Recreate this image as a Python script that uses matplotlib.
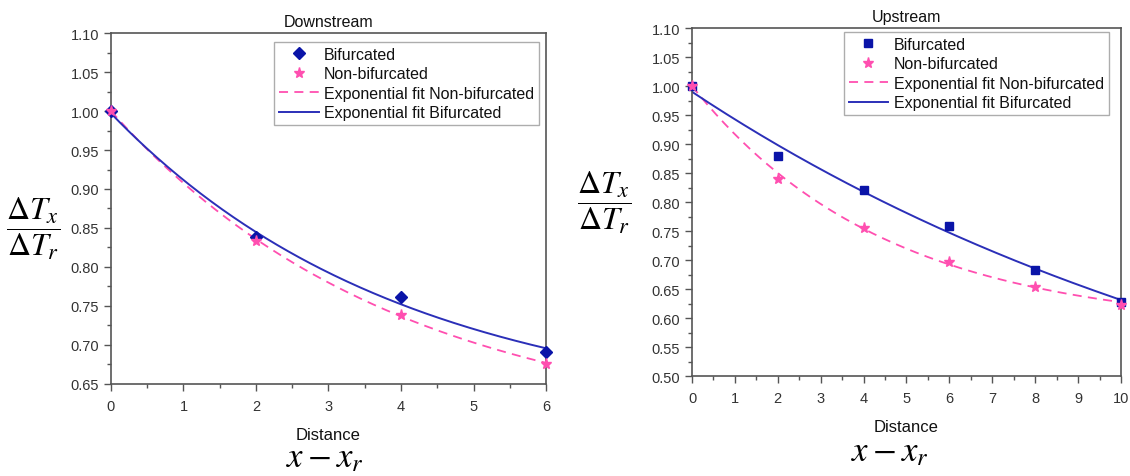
import numpy as np
import matplotlib
matplotlib.use("Agg")
import matplotlib.pyplot as plt
from matplotlib.ticker import MultipleLocator, FormatStrFormatter

plt.rcParams['font.family'] = ['Liberation Sans', 'DejaVu Sans']
plt.rcParams['mathtext.fontset'] = 'stix'

# ---- Data: Downstream ----
down_x = [0, 2, 4, 6]
down_bif = [1.000, 0.838, 0.762, 0.691]
down_nonbif = [1.000, 0.833, 0.738, 0.675]
# exponential fit parameters y = y0 + A*exp(-x/t)
down_fit_bif = dict(y0=0.608, A=0.389, t=4.03)
down_fit_nonbif = dict(y0=0.5865, A=0.4135, t=3.95)

# ---- Data: Upstream ----
up_x = [0, 2, 4, 6, 8, 10]
up_bif = [1.000, 0.880, 0.821, 0.758, 0.682, 0.628]
up_nonbif = [1.000, 0.840, 0.755, 0.697, 0.654, 0.623]
up_fit_bif = dict(y0=0.249, A=0.741, t=15.1)
up_fit_nonbif = dict(y0=0.582, A=0.418, t=4.5)

BLUE_M = '#0a14a8'
BLUE_L = '#2b2fb8'
PINK = '#ff4fb0'
SPINE = '#555555'
TXT = '#333333'

fig = plt.figure(figsize=(11.3, 4.77), dpi=100)

def fit_curve(p, xmax):
    xs = np.linspace(0, xmax, 200)
    return xs, p['y0'] + p['A'] * np.exp(-xs / p['t'])

def style_axes(ax, xmax, ylo, yhi):
    ax.set_xlim(0, xmax)
    ax.set_ylim(ylo, yhi)
    ax.xaxis.set_major_locator(MultipleLocator(1))
    ax.xaxis.set_minor_locator(MultipleLocator(0.5))
    ax.yaxis.set_major_locator(MultipleLocator(0.05))
    ax.yaxis.set_minor_locator(MultipleLocator(0.025))
    ax.yaxis.set_major_formatter(FormatStrFormatter('%.2f'))
    ax.tick_params(which='major', direction='out', length=5, width=1, color=SPINE,
                   labelsize=10.5, labelcolor=TXT)
    ax.tick_params(which='minor', direction='out', length=3, width=1, color=SPINE)
    ax.tick_params(axis='x', pad=6)
    for s in ax.spines.values():
        s.set_color(SPINE)
        s.set_linewidth(1.2)

def draw(ax, x, bif, nonbif, fb, fn, xmax, ylo, bif_marker, bif_ms, title, leg_anchor):
    xs, yn = fit_curve(fn, xmax)
    ax.plot(x, bif, linestyle='none', marker=bif_marker, ms=bif_ms, color=BLUE_M,
            label='Bifurcated', zorder=3, clip_on=False)
    ax.plot(x, nonbif, linestyle='none', marker='*', ms=8, color=PINK,
            label='Non-bifurcated', zorder=4, clip_on=False)
    ax.plot(xs, yn, linestyle=(0, (5, 3.5)), color=PINK, lw=1.3,
            label='Exponential fit Non-bifurcated', zorder=2)
    xs, yb = fit_curve(fb, xmax)
    ax.plot(xs, yb, linestyle='-', color=BLUE_L, lw=1.4,
            label='Exponential fit Bifurcated', zorder=2)
    style_axes(ax, xmax, ylo, 1.10)
    ax.set_title(title, fontsize=11.5, color='#111111', pad=5)
    ax.set_xlabel('Distance', fontsize=12, color='#111111', labelpad=10)
    leg = ax.legend(loc='upper right', bbox_to_anchor=leg_anchor, fontsize=11.5,
                    frameon=True, fancybox=False, edgecolor='#999999',
                    handlelength=2.5, handletextpad=0.35, borderpad=0.3,
                    labelspacing=0.28, borderaxespad=0.0)
    leg.get_frame().set_linewidth(1.0)
    for t in leg.get_texts():
        t.set_color('#111111')

ax1 = fig.add_axes([0.0982, 0.1929, 0.385, 0.7358])
draw(ax1, down_x, down_bif, down_nonbif, down_fit_bif, down_fit_nonbif, 6, 0.65,
     'D', 6.5, 'Downstream', (0.984, 0.974))

ax2 = fig.add_axes([0.6124, 0.2096, 0.3796, 0.7296])
draw(ax2, up_x, up_bif, up_nonbif, up_fit_bif, up_fit_nonbif, 10, 0.50,
     's', 6, 'Upstream', (0.972, 0.9885))

frac = r'$\dfrac{\Delta T_x}{\Delta T_r}$'
fig.text(33 / 1130, 1 - 229 / 477, frac, fontsize=23, ha='center', va='center')
fig.text(604 / 1130, 1 - 203 / 477, frac, fontsize=23, ha='center', va='center')
xl = r'$x - x_r$'
fig.text(325 / 1130, 1 - 467 / 477, xl, fontsize=25, ha='center', va='baseline')
fig.text(890 / 1130, 1 - 461 / 477, xl, fontsize=25, ha='center', va='baseline')

fig.savefig('out.png', dpi=100)
